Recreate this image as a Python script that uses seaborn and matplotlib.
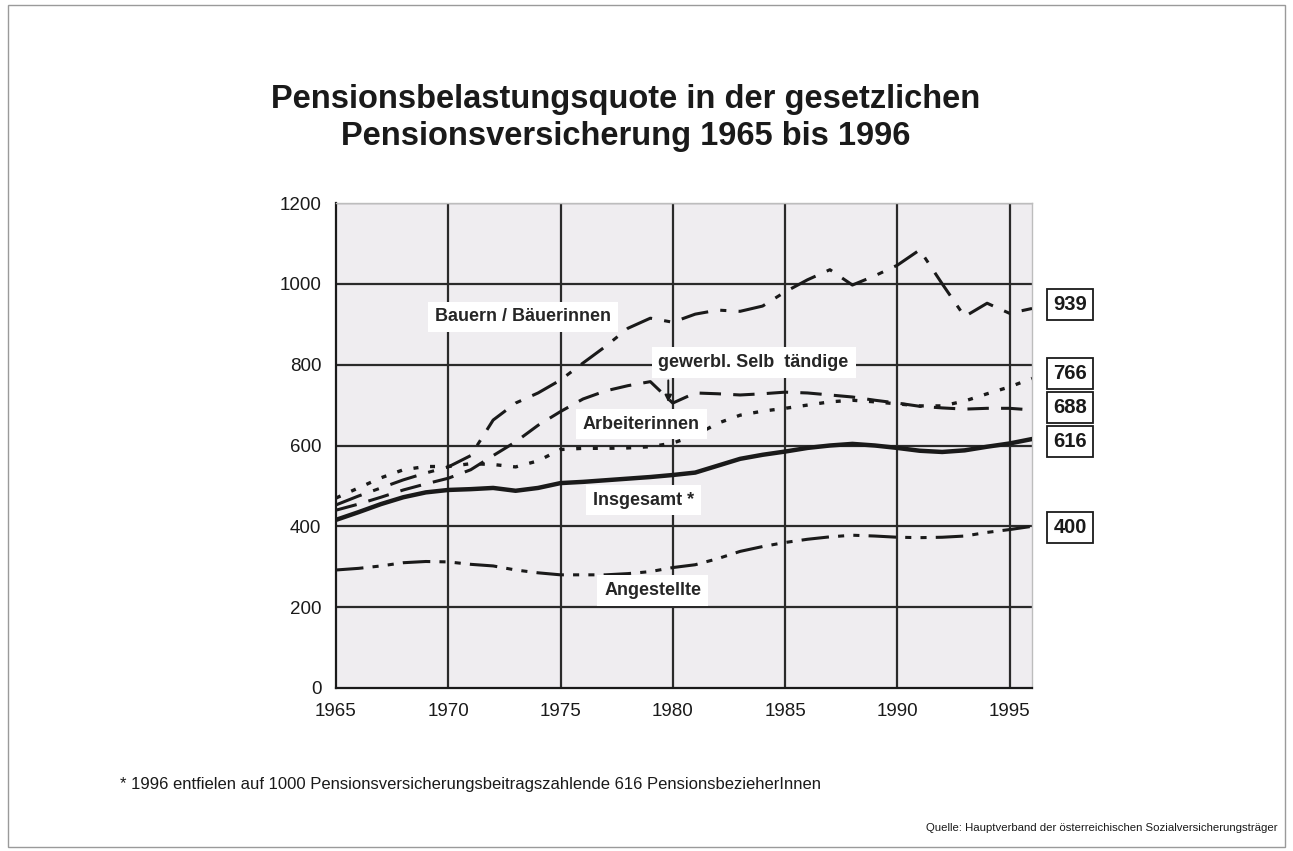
import matplotlib
matplotlib.use("Agg")
import matplotlib.pyplot as plt
import matplotlib.transforms as mtransforms
from matplotlib.patches import Rectangle
import seaborn as sns
import pandas as pd

# data, 1965-1996
years = list(range(1965, 1997))

insgesamt = [416, 435, 455, 472, 484, 490, 492, 495, 488, 495, 507, 510, 514, 518, 522, 527,
             533, 550, 567, 577, 585, 594, 600, 604, 600, 594, 587, 584, 588, 597, 605, 616]
angestellte = [292, 296, 302, 310, 313, 312, 306, 302, 292, 285, 280, 280, 280, 283, 288, 298,
               305, 320, 338, 350, 360, 368, 374, 378, 376, 373, 372, 373, 376, 385, 392, 400]
bauern = [453, 475, 495, 515, 532, 547, 575, 663, 705, 730, 762, 804, 845, 890, 915, 905,
          925, 935, 932, 945, 980, 1010, 1035, 997, 1020, 1046, 1084, 1000, 919, 952, 927, 939]
gewerbl = [440, 455, 472, 490, 505, 519, 540, 575, 609, 650, 684, 715, 735, 748, 758, 705,
           730, 728, 725, 728, 732, 730, 725, 720, 712, 705, 697, 693, 690, 692, 692, 688]
arbeiter = [470, 495, 520, 540, 548, 548, 555, 553, 547, 562, 590, 593, 593, 594, 597, 606,
            625, 655, 675, 685, 692, 700, 708, 712, 708, 703, 698, 698, 710, 728, 745, 766]

end_values = ["939", "766", "688", "616", "400"]
yticks = [0, 200, 400, 600, 800, 1000, 1200]
xticks = [1965, 1970, 1975, 1980, 1985, 1990, 1995]

sns.set_style("white")
plt.rcParams["font.family"] = ["Liberation Sans", "DejaVu Sans"]

fig = plt.figure(figsize=(12.93, 8.51), dpi=100)
ax = fig.add_axes([336 / 1293, 1 - 688 / 851, 696 / 1293, 485 / 851])
ax.set_facecolor("#efedf0")

# grid drawn by hand so it sits under the lines
for yv in yticks[1:]:
    ax.axhline(yv, color="#2a2a2a", lw=1.6, zorder=1)
for xv in xticks[1:]:
    ax.axvline(xv, color="#2a2a2a", lw=1.6, zorder=1)

series = [
    ("Insgesamt", insgesamt, "-", 3.2),
    ("Angestellte", angestellte, (0, (9, 3, 2, 3, 2, 3)), 2.2),
    ("Bauern", bauern, (0, (9, 4, 2, 4)), 2.2),
    ("gewerbl", gewerbl, (0, (7, 4)), 2.2),
    ("Arbeiter", arbeiter, (0, (1.5, 3.5)), 2.4),
]
for name, vals, ls, lw in series:
    df = pd.DataFrame({"Jahr": years, "Wert": vals})
    sns.lineplot(data=df, x="Jahr", y="Wert", ax=ax, color="#1a1a1a",
                 linestyle=ls, linewidth=lw, zorder=3)

ax.set_xlim(1965, 1996)
ax.set_ylim(0, 1200)
ax.set_xticks(xticks)
ax.set_yticks(yticks)
ax.set_xlabel("")
ax.set_ylabel("")
ax.tick_params(direction="inout", length=9, width=1.2, labelsize=13.5, colors="#1a1a1a", pad=6)
for side in ["left", "bottom"]:
    ax.spines[side].set_color("#1a1a1a")
    ax.spines[side].set_linewidth(1.6)
for side in ["top", "right"]:
    ax.spines[side].set_color("#bdbdbd")
    ax.spines[side].set_linewidth(1.0)

# series labels in the plot
lab = dict(fontsize=13, fontweight="bold", ha="center", va="center", zorder=5,
           bbox=dict(facecolor="white", edgecolor="none", pad=5))
ax.text(1973.33, 918, "Bauern / Bäuerinnen", **lab)
ax.text(1983.6, 806, "gewerbl. Selb  tändige", **lab)
ax.text(1978.6, 653, "Arbeiterinnen", **lab)
ax.text(1978.7, 465, "Insgesamt *", **lab)
ax.text(1979.1, 242, "Angestellte", **lab)
ax.annotate("", xy=(1979.8, 700), xytext=(1979.8, 768),
            arrowprops=dict(arrowstyle="-|>", lw=1.4, color="#1a1a1a", mutation_scale=10), zorder=5)

# end value boxes to the right of the plot
trans = mtransforms.blended_transform_factory(ax.transAxes, ax.transData)
box_y = [950, 779, 693, 609, 398]
for txt, yv in zip(end_values, box_y):
    ax.text(1.0546, yv, txt, transform=trans, fontsize=14.5, fontweight="bold",
            ha="center", va="center", color="#1a1a1a", clip_on=False,
            bbox=dict(facecolor="white", edgecolor="#1a1a1a", lw=1.3, boxstyle="square,pad=0.3"))

fig.text(0.484, 1 - 118 / 851,
         "Pensionsbelastungsquote in der gesetzlichen\nPensionsversicherung 1965 bis 1996",
         ha="center", va="center", fontsize=23.5, fontweight="bold", linespacing=1.22, color="#1a1a1a")
fig.text(120 / 1293, 1 - 784 / 851,
         "* 1996 entfielen auf 1000 Pensionsversicherungsbeitragszahlende 616 PensionsbezieherInnen",
         ha="left", va="center", fontsize=12, color="#1a1a1a")
fig.text(1278 / 1293, 1 - 828 / 851,
         "Quelle: Hauptverband der österreichischen Sozialversicherungsträger",
         ha="right", va="center", fontsize=8.2, color="#1a1a1a")

fig.patches.append(Rectangle((8 / 1293, 4 / 851), 1277 / 1293, 842 / 851, transform=fig.transFigure,
                             fill=False, edgecolor="#9a9a9a", lw=1.0))

fig.savefig("out.png", dpi=100)
